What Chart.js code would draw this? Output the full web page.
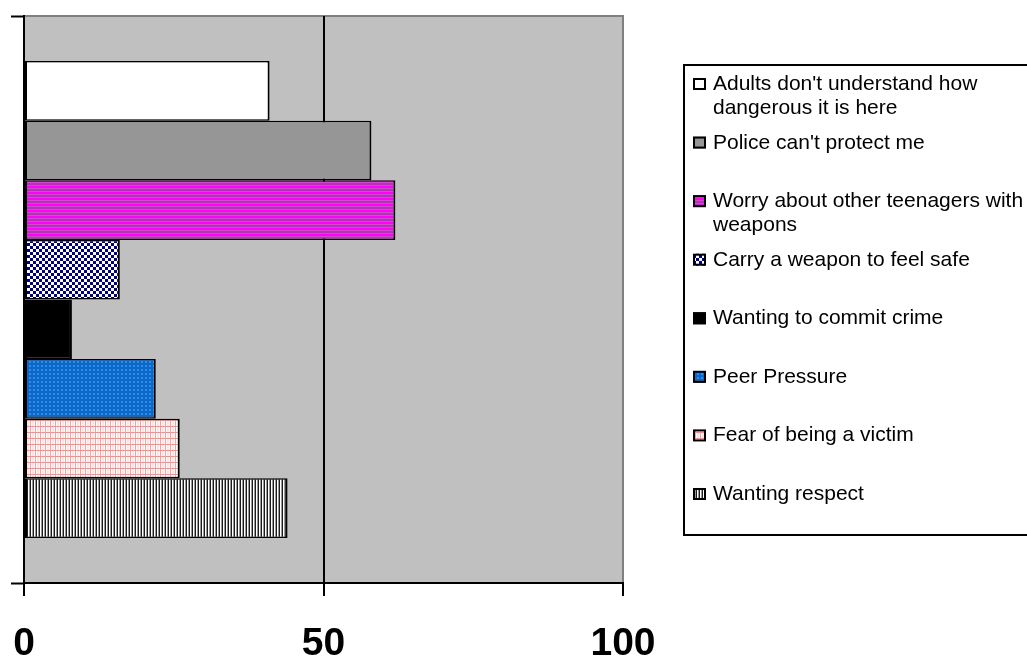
<!DOCTYPE html>
<html>
<head>
<meta charset="utf-8">
<title>Reasons for carrying weapons</title>
<script src="https://cdn.jsdelivr.net/npm/chart.js@4/dist/chart.umd.min.js"></script>
<style>
  html, body { margin: 0; padding: 0; background: #ffffff; }
  canvas { display: block; }
</style>
</head>
<body>
<canvas id="chart" width="1027" height="660"></canvas>
<script>
// ---- data ----
const categories = [''];
const seriesNames = [
  "Adults don't understand how dangerous it is here",
  "Police can't protect me",
  "Worry about other teenagers with weapons",
  "Carry a weapon to feel safe",
  "Wanting to commit crime",
  "Peer Pressure",
  "Fear of being a victim",
  "Wanting respect"
];
const seriesValues = [41, 58, 62, 16, 8, 22, 26, 44];
const xTickValues = [0, 50, 100];

// ---- fills (one per series, in the same order) ----
const canvas = document.getElementById('chart');
const mainCtx = canvas.getContext('2d');

function tile(w, h, paint) {
  const c = document.createElement('canvas');
  c.width = w; c.height = h;
  const g = c.getContext('2d');
  paint(g);
  return mainCtx.createPattern(c, 'repeat');
}

const fills = [
  '#ffffff',
  '#969696',
  tile(1, 3, g => { g.fillStyle = '#ff00ff'; g.fillRect(0, 0, 1, 3); g.fillStyle = '#808080'; g.fillRect(0, 2, 1, 1); }),
  tile(6, 6, g => { g.fillStyle = '#ffffff'; g.fillRect(0, 0, 6, 6); g.fillStyle = '#000080'; g.fillRect(0, 0, 3, 3); g.fillRect(3, 3, 3, 3); }),
  '#000000',
  tile(4, 4, g => { g.fillStyle = '#0868cc'; g.fillRect(0, 0, 4, 4); g.fillStyle = '#3a8ade'; g.fillRect(1, 1, 2, 2); }),
  tile(5, 6, g => {
    g.fillStyle = '#ffffff'; g.fillRect(0, 0, 5, 6);
    g.fillStyle = '#ffe2e2'; g.fillRect(2, 0, 2, 6);
    g.fillStyle = '#ff9c9c'; g.fillRect(0, 0, 1, 6);
    g.fillStyle = '#ff8c8c'; g.fillRect(0, 0, 5, 1);
  }),
  tile(3, 1, g => { g.fillStyle = '#1a1a1a'; g.fillRect(0, 0, 1, 1); g.fillStyle = '#ffffff'; g.fillRect(1, 0, 1, 1); g.fillStyle = '#9a9a9a'; g.fillRect(2, 0, 1, 1); })
];

const FONT = '"Liberation Sans", Arial, sans-serif';
Chart.defaults.font.family = FONT;

// grey plot area with a thin grey frame on top and right
const plotBackground = {
  id: 'plotBackground',
  beforeDraw(chart) {
    const { ctx, chartArea: a } = chart;
    ctx.save();
    ctx.fillStyle = '#c0c0c0';
    ctx.fillRect(a.left, a.top, a.right - a.left, a.bottom - a.top);
    ctx.strokeStyle = '#808080';
    ctx.lineWidth = 2;
    ctx.beginPath();
    ctx.moveTo(a.left, a.top);
    ctx.lineTo(a.right, a.top);
    ctx.lineTo(a.right, a.bottom);
    ctx.stroke();
    ctx.restore();
  }
};

// boxed legend on the right, entries wrapped to the box width
const boxedLegend = {
  id: 'boxedLegend',
  afterDraw(chart) {
    const L = { left: 684, top: 65, bottom: 535, markerX: 693, marker: 12, textX: 713,
                firstBaseline: 90, step: 58.57, lineHeight: 24, maxWidth: 320 };
    const ctx = chart.ctx;
    ctx.save();
    ctx.fillStyle = '#ffffff';
    ctx.fillRect(L.left, L.top, 400, L.bottom - L.top);
    ctx.strokeStyle = '#000000';
    ctx.lineWidth = 2;
    ctx.strokeRect(L.left, L.top, 400, L.bottom - L.top);

    ctx.font = '21px ' + FONT;
    ctx.textBaseline = 'alphabetic';
    ctx.textAlign = 'left';
    chart.data.datasets.forEach((ds, i) => {
      const base = L.firstBaseline + i * L.step;
      ctx.fillStyle = ds.backgroundColor;
      ctx.fillRect(L.markerX, base - L.marker, L.marker + 1, L.marker);
      ctx.lineWidth = 2;
      ctx.strokeStyle = '#000000';
      ctx.strokeRect(L.markerX + 1, base - L.marker + 1, L.marker - 1, L.marker - 2);

      const words = ds.label.split(' ');
      const lines = [];
      let cur = '';
      words.forEach(w => {
        const t = cur ? cur + ' ' + w : w;
        if (cur && ctx.measureText(t).width > L.maxWidth) { lines.push(cur); cur = w; }
        else cur = t;
      });
      if (cur) lines.push(cur);
      ctx.fillStyle = '#000000';
      lines.forEach((ln, k) => ctx.fillText(ln, L.textX, base + k * L.lineHeight));
    });
    ctx.restore();
  }
};

new Chart(mainCtx, {
  type: 'bar',
  data: {
    labels: categories,
    datasets: seriesNames.map((name, i) => ({
      label: name,
      data: [seriesValues[i]],
      backgroundColor: fills[i],
      borderColor: '#000000',
      borderWidth: { top: 1.5, bottom: 1.5, left: 2, right: 2 },
      borderSkipped: false,
      categoryPercentage: 0.841,
      barPercentage: 1.0
    }))
  },
  options: {
    indexAxis: 'y',
    responsive: false,
    animation: false,
    events: [],
    layout: { padding: { top: 16, right: 404, left: 0, bottom: 0 } },
    plugins: {
      legend: { display: false },
      tooltip: { enabled: false }
    },
    scales: {
      x: {
        type: 'linear',
        min: 0,
        max: 100,
        afterBuildTicks: s => { s.ticks = xTickValues.map(v => ({ value: v })); },
        afterFit: s => { s.height = 77; s.paddingLeft = 0; s.paddingRight = 0; },
        grid: {
          color: c => (c.tick && c.tick.value === 50 ? '#000000' : 'rgba(0,0,0,0)'),
          lineWidth: 2,
          drawTicks: true,
          tickLength: 13,
          tickColor: '#000000',
          tickWidth: 2
        },
        border: { display: true, color: '#000000', width: 2 },
        ticks: {
          color: '#000000',
          padding: 29,
          maxRotation: 0,
          font: { size: 39, weight: 'bold', lineHeight: 1 }
        }
      },
      y: {
        type: 'category',
        offset: true,
        afterFit: s => { s.width = 24; },
        grid: {
          offset: true,
          drawOnChartArea: false,
          drawTicks: true,
          tickLength: 13,
          tickColor: '#000000',
          tickWidth: 2
        },
        border: { display: true, color: '#000000', width: 2 },
        ticks: { display: false }
      }
    }
  },
  plugins: [plotBackground, boxedLegend]
});
</script>
</body>
</html>
